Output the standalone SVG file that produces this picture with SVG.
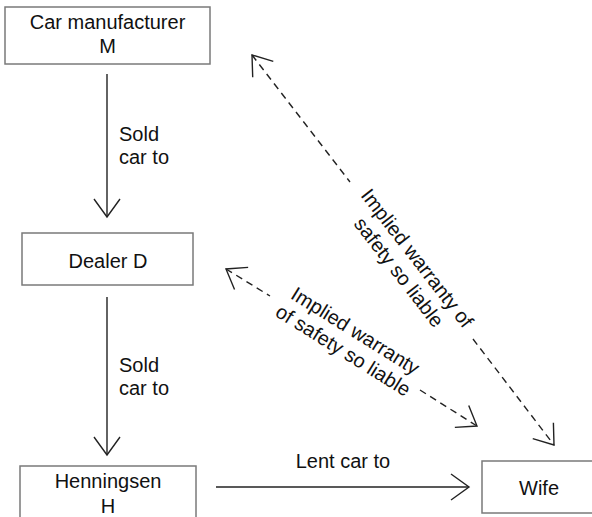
<svg xmlns="http://www.w3.org/2000/svg" width="592" height="517" viewBox="0 0 592 517">
<style>
.box{fill:#fff;stroke:#7a7a7a;stroke-width:1.5}
.t{font-family:"Liberation Sans",Arial,sans-serif;font-size:20px;fill:#111}
.c{text-anchor:middle}
.ln{fill:none;stroke:#222;stroke-width:1.4}
.dash{stroke-dasharray:7 5}
</style>
<defs>
<marker id="ah" markerUnits="userSpaceOnUse" orient="auto-start-reverse" refX="0" refY="0" markerWidth="40" markerHeight="40" overflow="visible">
<path d="M-18,-13 L0,0 L-18,13" fill="none" stroke="#222" stroke-width="1.4" stroke-dasharray="none"/>
</marker>
</defs>
<rect width="592" height="517" fill="#fff"/>
<g id="connectors">
<line class="ln" x1="107" y1="74" x2="107" y2="217" marker-end="url(#ah)"/>
<line class="ln" x1="107" y1="297" x2="107" y2="455" marker-end="url(#ah)"/>
<line class="ln" x1="216" y1="487" x2="469" y2="487" marker-end="url(#ah)"/>
<line class="ln dash" x1="252" y1="55" x2="350" y2="182" marker-start="url(#ah)"/>
<line class="ln dash" x1="473" y1="339" x2="554" y2="445" marker-end="url(#ah)"/>
<line class="ln dash" x1="226" y1="269" x2="270" y2="296" marker-start="url(#ah)"/>
<line class="ln dash" x1="420" y1="390" x2="477" y2="426" marker-end="url(#ah)"/>
<text class="t" x="119" y="141">Sold</text>
<text class="t" x="119" y="164">car to</text>
<text class="t" x="119" y="372">Sold</text>
<text class="t" x="119" y="395">car to</text>
<text class="t c" x="343" y="468">Lent car to</text>
<g transform="translate(407,266) rotate(52.25)">
<text class="t c" x="0" y="-6">Implied warranty of</text>
<text class="t c" x="0" y="17">safety so liable</text>
</g>
<g transform="translate(346,346) rotate(32)">
<text class="t c" x="0" y="-11">Implied warranty</text>
<text class="t c" x="0" y="12">of safety so liable</text>
</g>
</g>
<g id="node-m">
<rect class="box" x="5" y="7" width="205" height="57"/>
<text class="t c" x="107.5" y="29">Car manufacturer</text>
<text class="t c" x="107.5" y="53">M</text>
</g>
<g id="node-d">
<rect class="box" x="22" y="233" width="171" height="52"/>
<text class="t c" x="108" y="268">Dealer D</text>
</g>
<g id="node-h">
<rect class="box" x="20" y="466" width="176" height="60"/>
<text class="t c" x="108" y="488">Henningsen</text>
<text class="t c" x="108" y="513">H</text>
</g>
<g id="node-wife">
<rect class="box" x="482" y="461" width="114" height="52"/>
<text class="t c" x="539" y="495">Wife</text>
</g>
</svg>
